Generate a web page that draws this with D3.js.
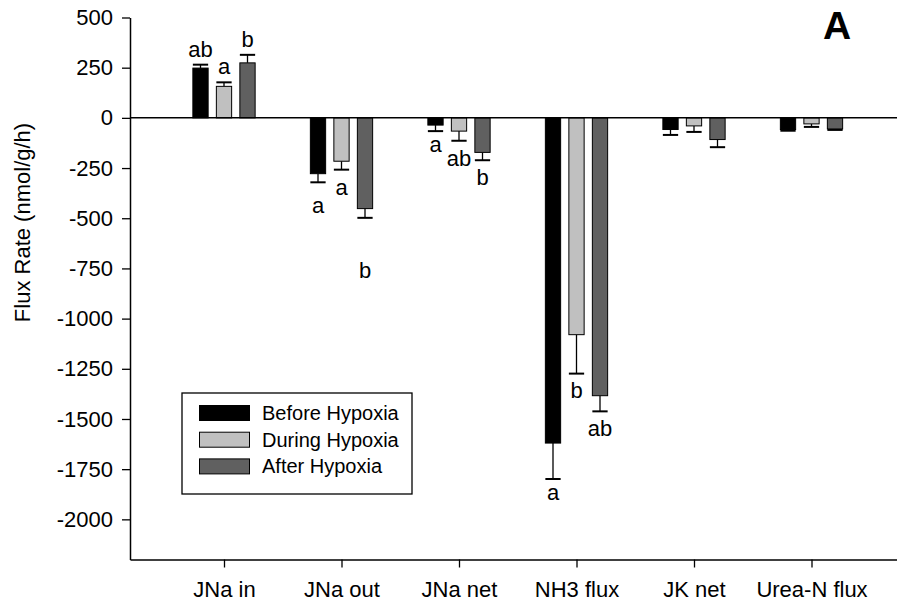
<!DOCTYPE html>
<html>
<head>
<meta charset="utf-8">
<script src="https://cdn.jsdelivr.net/npm/d3@7"></script>
<style>
  html, body { margin: 0; padding: 0; background: #fff; }
  svg { display: block; font-family: Arial, "Liberation Sans", sans-serif; }
</style>
</head>
<body>
<svg id="chart" width="897" height="607"></svg>
<script>
// Ion and nitrogen flux rates across the three hypoxia phases
const categories = ["JNa in", "JNa out", "JNa net", "NH3 flux", "JK net", "Urea-N flux"];
const series = ["Before Hypoxia", "During Hypoxia", "After Hypoxia"];

const beforeMean = [248, -278, -36, -1620, -58, -58];
const duringMean = [157, -216, -66, -1080, -40, -30];
const afterMean  = [274, -452, -172, -1384, -108, -55];

const beforeErr = [17, 43, 30, 179, 27, 6];
const duringErr = [20, 42, 48, 194, 30, 15];
const afterErr  = [40, 46, 39, 78, 38, 5];

// significance letters (empty = none shown)
const beforeLetters = ["ab", "a", "a", "a", "", ""];
const duringLetters = ["a", "a", "ab", "b", "", ""];
const afterLetters  = ["b", "b", "b", "ab", "", ""];

const yTicks = [500, 250, 0, -250, -500, -750, -1000, -1250, -1500, -1750, -2000];

const means = [beforeMean, duringMean, afterMean];
const errs = [beforeErr, duringErr, afterErr];
const letters = [beforeLetters, duringLetters, afterLetters];
const fills = ["#000000", "#c0c0c0", "#606060"];

const svg = d3.select("#chart");
const FONT = 22;

const x = d3.scaleLinear().domain([0.2, 6.8]).range([130, 905.5]);
const y = d3.scaleLinear().domain([-2200, 500]).range([559.5, 17.5]);
const groupOffset = 0.2;   // spacing of bars within a category (x units)
const barWidth = 0.13;     // x units

// extra downward nudges for a few crowded letters (px)
const letterNudge = { "1-0": 10, "1-1": 5, "1-2": 35 };

// one row per bar
const rows = [];
categories.forEach((c, i) => {
  series.forEach((s, k) => {
    rows.push({ i, k, v: means[k][i], e: errs[k][i], L: letters[k][i] });
  });
});
function pos(d) { return d.i + 1 + (d.k - 1) * groupOffset; }
const cx = d => x(pos(d));
const bw = x(barWidth) - x(0);

const g = svg.append("g");

// error bars (one-sided, away from zero)
const eb = g.selectAll(".err").data(rows).join("g").attr("class", "err")
  .attr("stroke", "#000").attr("fill", "none");
eb.append("line")
  .attr("x1", d => cx(d)).attr("x2", d => cx(d))
  .attr("y1", d => y(d.v))
  .attr("y2", d => y(d.v + Math.sign(d.v) * d.e))
  .attr("stroke-width", 1.3);
eb.append("line")
  .attr("x1", d => cx(d) - bw / 2).attr("x2", d => cx(d) + bw / 2)
  .attr("y1", d => y(d.v + Math.sign(d.v) * d.e))
  .attr("y2", d => y(d.v + Math.sign(d.v) * d.e))
  .attr("stroke-width", 2);

g.selectAll(".bar").data(rows).join("rect").attr("class", "bar")
  .attr("x", d => cx(d) - bw / 2)
  .attr("width", bw)
  .attr("y", d => y(Math.max(0, d.v)))
  .attr("height", d => Math.abs(y(d.v) - y(0)))
  .attr("fill", d => fills[d.k])
  .attr("stroke", "#000")
  .attr("stroke-width", 1);

// significance letters
g.selectAll(".letter").data(rows.filter(d => d.L)).join("text").attr("class", "letter")
  .attr("x", d => cx(d))
  .attr("y", d => {
    const cap = y(d.v + Math.sign(d.v) * d.e);
    if (d.v >= 0) return cap - 8;
    const asc = /b/.test(d.L) ? 0.72 * FONT : 0.53 * FONT;
    return cap + 9 + asc + (letterNudge[d.i + "-" + d.k] || 0);
  })
  .attr("text-anchor", "middle")
  .attr("font-size", FONT)
  .attr("fill", "#000")
  .text(d => d.L);

// zero line
svg.append("line")
  .attr("x1", x(0.2)).attr("x2", x(6.8))
  .attr("y1", y(0)).attr("y2", y(0))
  .attr("stroke", "#000").attr("stroke-width", 1.5);

// axes
const yAxis = svg.append("g")
  .attr("transform", `translate(${x(0.2)},0)`)
  .call(d3.axisLeft(y).tickValues(yTicks).tickSize(8).tickSizeOuter(0).tickPadding(9)
    .tickFormat(d => String(d)));
const xAxis = svg.append("g")
  .attr("transform", `translate(0,${y(-2200)})`)
  .call(d3.axisBottom(x).tickValues(d3.range(1, 7)).tickSize(8).tickSizeOuter(0).tickPadding(14)
    .tickFormat(d => categories[d - 1]));
[yAxis, xAxis].forEach(a => {
  a.selectAll("path.domain").attr("stroke", "#000").attr("stroke-width", 1.5);
  a.selectAll(".tick line").attr("stroke", "#000").attr("stroke-width", 1.3);
  a.selectAll(".tick text").attr("fill", "#000")
    .attr("font-size", FONT).attr("font-family", "Arial, 'Liberation Sans', sans-serif");
});

// axis title
svg.append("text")
  .attr("transform", `translate(30,${(y(500) + y(-2200)) / 2 - 66}) rotate(-90)`)
  .attr("text-anchor", "middle")
  .attr("font-size", FONT)
  .attr("fill", "#000")
  .text("Flux Rate (nmol/g/h)");

// panel letter
svg.append("text")
  .attr("x", 837).attr("y", 39)
  .attr("text-anchor", "middle")
  .attr("font-size", 39).attr("font-weight", "bold")
  .attr("fill", "#000")
  .text("A");

// legend
const leg = svg.append("g").attr("transform", "translate(182,393)");
leg.append("rect").attr("width", 230).attr("height", 101)
  .attr("fill", "#fff").attr("stroke", "#000").attr("stroke-width", 1.3);
const li = leg.selectAll(".li").data(series).join("g").attr("class", "li")
  .attr("transform", (d, k) => `translate(0,${20 + k * 26.7})`);
li.append("rect").attr("x", 17.5).attr("y", -7.5).attr("width", 50).attr("height", 15)
  .attr("fill", (d, k) => fills[k]).attr("stroke", "#000").attr("stroke-width", 1);
li.append("text").attr("x", 80).attr("y", 7).attr("font-size", 20).attr("fill", "#000")
  .text(d => d);
</script>
</body>
</html>
